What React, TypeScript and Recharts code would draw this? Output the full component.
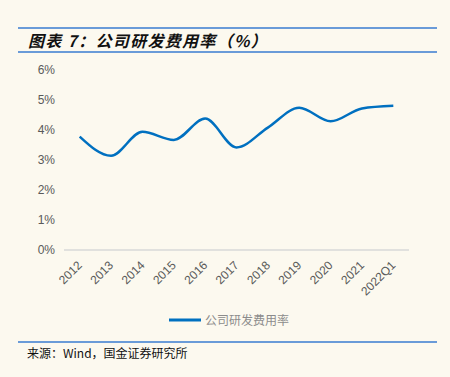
import { Legend, Line, LineChart, XAxis, YAxis } from "recharts";

const years = ["2012", "2013", "2014", "2015", "2016", "2017", "2018", "2019", "2020", "2021", "2022Q1"];
const rdRatio = [3.78, 3.14, 3.94, 3.67, 4.38, 3.42, 4.08, 4.74, 4.29, 4.72, 4.81];
const yTicks = [0, 1, 2, 3, 4, 5, 6];
const frameTicks = [0, 1, 2, 3, 4, 5, 6, 7, 8, 9, 10, 11];
const seriesName = "公司研发费用率";

const BG = "#FCF9EF";
const BLUE = "#0070C0";
const RULE = "#6A9BD8";
const AXIS = "#D9D9D9";
const MUTED = "#595959";
const SANS = "'Liberation Sans', Arial, sans-serif";
const CJK = "'Noto Sans CJK SC', sans-serif";

const data = years.map((y, i) => ({ year: y, value: rdRatio[i] }));

function YearTick({ x, y, payload }: any) {
  return (
    <g transform={`translate(${x},${y})`}>
      <text
        x={3}
        y={16}
        textAnchor="end"
        transform="rotate(-45 3 16)"
        fontSize={12}
        fontFamily={SANS}
        fill={MUTED}
      >
        {payload.value}
      </text>
    </g>
  );
}

function LegendContent() {
  return (
    <div style={{ display: "flex", justifyContent: "center", alignItems: "center", gap: 4 }}>
      <svg width={32} height={6}>
        <line x1={0} y1={3} x2={32} y2={3} stroke={BLUE} strokeWidth={3} />
      </svg>
      <span style={{ fontSize: 12, color: "#8C8C8C", fontFamily: CJK }}>{seriesName}</span>
    </div>
  );
}

export default function App() {
  return (
    <div style={{ position: "absolute", left: 0, top: 0, width: 450, height: 377, background: BG, overflow: "hidden" }}>
      <div style={{ position: "absolute", left: 18, width: 419, top: 27, height: 0, borderTop: `2px solid ${RULE}` }} />
      <div
        style={{
          position: "absolute", left: 28, top: 30, fontSize: 16, letterSpacing: 1.3, fontWeight: 700, fontStyle: "italic",
          fontFamily: CJK, color: "#111", lineHeight: "20px", whiteSpace: "nowrap",
        }}
      >
        图表 7：公司研发费用率（%）
      </div>
      <div style={{ position: "absolute", left: 18, width: 419, top: 51, height: 0, borderTop: `2px solid ${RULE}` }} />

      <div style={{ position: "absolute", left: 0, top: 0 }}>
        <LineChart width={450} height={377} data={data} margin={{ top: 70, right: 41, left: 0, bottom: 67 }}>
          <XAxis
            xAxisId="frame"
            type="number"
            domain={[0, 11]}
            ticks={frameTicks}
            tick={false}
            tickSize={4}
            mirror
            height={1}
            axisLine={{ stroke: AXIS, strokeWidth: 1.5 }}
            tickLine={{ stroke: AXIS, strokeWidth: 1.5 }}
          />
          <XAxis
            xAxisId="cat"
            dataKey="year"
            scale="band"
            interval={0}
            height={60}
            tickSize={0}
            tickMargin={0}
            axisLine={false}
            tickLine={false}
            tick={<YearTick />}
          />
          <YAxis
            domain={[0, 6]}
            ticks={yTicks}
            width={64}
            axisLine={false}
            tickLine={false}
            tickMargin={3}
            tick={{ fontSize: 12, fill: MUTED, fontFamily: SANS }}
            tickFormatter={(v: number) => `${v}%`}
          />
          <Legend
            layout="horizontal"
            verticalAlign="middle"
            align="center"
            content={<LegendContent />}
            wrapperStyle={{ top: 311, left: 4, width: 450 }}
          />
          <Line
            xAxisId="cat"
            type="monotone"
            dataKey="value"
            name={seriesName}
            stroke={BLUE}
            strokeWidth={2.5}
            dot={false}
            isAnimationActive={false}
          />
        </LineChart>
      </div>

      <div style={{ position: "absolute", left: 18, width: 419, top: 341, height: 0, borderTop: `2px solid ${RULE}` }} />
      <div
        style={{
          position: "absolute", left: 27, top: 345, fontSize: 12, fontFamily: CJK, color: "#111",
          lineHeight: "16px", whiteSpace: "nowrap",
        }}
      >
        来源：Wind，国金证券研究所
      </div>
    </div>
  );
}
